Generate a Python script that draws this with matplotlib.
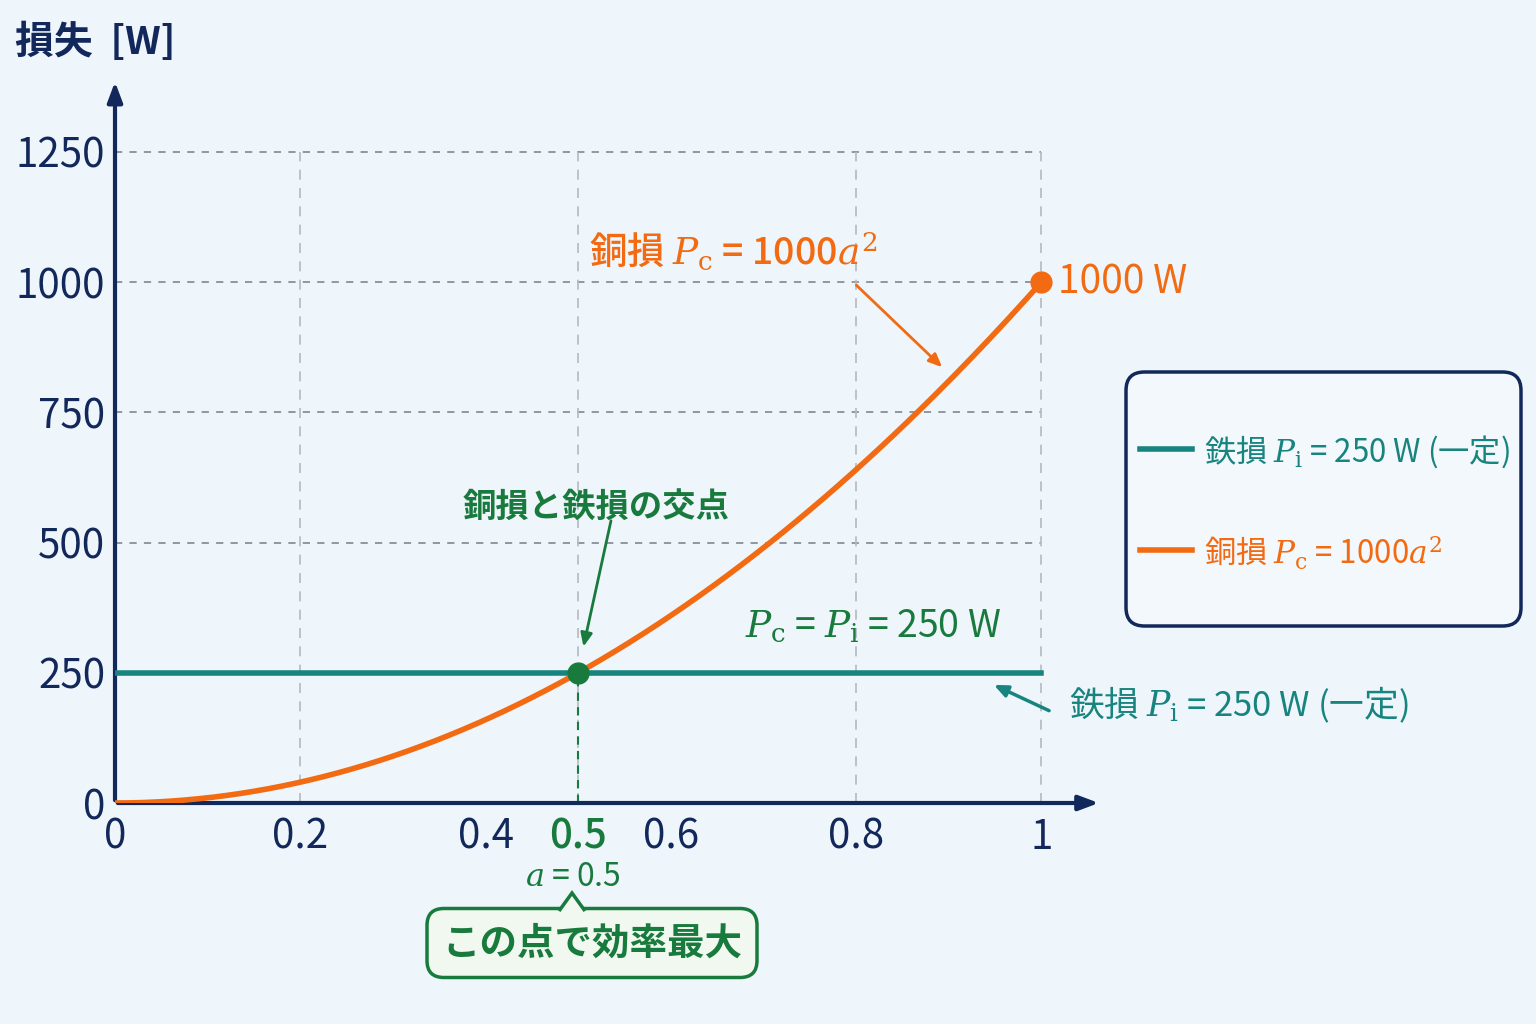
import numpy as np
import matplotlib.pyplot as plt
from matplotlib.lines import Line2D
from matplotlib.patches import Polygon, FancyBboxPatch

plt.rcParams['font.family'] = ['Noto Sans CJK JP', 'DejaVu Sans']
plt.rcParams['mathtext.fontset'] = 'dejavuserif'

# データ
a = np.linspace(0, 1, 201)
copper_coef = 1000
iron_loss = 250
a_cross = 0.5
yticks = [0, 250, 500, 750, 1000, 1250]
xticks = [0, 0.2, 0.4, 0.5, 0.6, 0.8, 1]
xtick_labels = ['0', '0.2', '0.4', '0.5', '0.6', '0.8', '1']
vgrid = [0.2, 0.5, 0.8, 1.0]
hgrid = [500, 750, 1000, 1250]
legend_labels = ['鉄損 $P_\\mathrm{i}$ = 250 W (一定)', '銅損 $P_\\mathrm{c}$ = 1000$a^2$']

navy = '#13285a'
orange = '#f26b12'
teal = '#17847f'
green = '#187a3c'
bg = '#eef5fb'

fig = plt.figure(figsize=(15.36, 10.24), dpi=100, facecolor=bg)
ax = fig.add_axes([115/1536, 221/1024, 982/1536, 724/1024])
ax.set_facecolor(bg)
ax.set_xlim(0, 1.06)
ax.set_ylim(0, 1390)
for s in ax.spines.values():
    s.set_visible(False)

# グリッド
ax.hlines(hgrid, 0, 1, colors='#8a8f98', linestyles=(0, (4, 4)), lw=1.3, zorder=1)
ax.vlines(vgrid, 0, 1250, colors='#b5b9c0', linestyles=(0, (6, 5)), lw=1.2, zorder=1)

# 軸（矢印）
ax.annotate('', xy=(1.065, 0), xytext=(0, 0), annotation_clip=False,
            arrowprops=dict(arrowstyle='-|>,head_length=1.2,head_width=0.45', color=navy, lw=3))
ax.annotate('', xy=(0, 1390), xytext=(0, 0), annotation_clip=False,
            arrowprops=dict(arrowstyle='-|>,head_length=1.2,head_width=0.45', color=navy, lw=3))

# 曲線
pc = copper_coef * a**2
ax.plot([0, 1], [iron_loss, iron_loss], color=teal, lw=4, zorder=3)
ax.plot(a, pc, color=orange, lw=4, zorder=4)
ax.plot([1], [copper_coef], 'o', color=orange, ms=15, zorder=5)
ax.plot([a_cross, a_cross], [0, iron_loss], color=green, lw=1.5, ls=(0, (4, 3)), zorder=2)
ax.plot([a_cross], [iron_loss], 'o', color=green, ms=15, zorder=6)

# 目盛
ax.set_yticks(yticks)
ax.set_yticklabels([str(v) for v in yticks], fontsize=29, color=navy)
ax.set_xticks(xticks)
ax.set_xticklabels(xtick_labels, fontsize=29, color=navy)
ax.get_xticklabels()[3].set_color(green)
ax.get_xticklabels()[3].set_fontweight('medium')
ax.tick_params(length=0, pad=10)
ax.tick_params(axis='y', pad=7)

fig.text(15/1536, 1 - 42/1024, '損失  [W]', fontsize=28, color=navy, fontweight='bold',
         va='center', ha='left')

# 注釈
ax.text(0.512, 1060, '銅損 $P_\\mathrm{c}$ = 1000$a^2$', fontsize=27, color=orange,
        va='center', ha='left', fontweight='medium')
ax.annotate('', xy=(0.895, 833), xytext=(0.798, 998),
            arrowprops=dict(arrowstyle='-|>,head_length=0.8,head_width=0.35', color=orange, lw=2))
ax.text(1.018, 1000, '1000 W', fontsize=28, color=orange, va='center', ha='left')

ax.text(0.519, 568, '銅損と鉄損の交点', fontsize=24, color=green, fontweight='bold',
        va='center', ha='center')
ax.annotate('', xy=(0.505, 295), xytext=(0.536, 547),
            arrowprops=dict(arrowstyle='-|>,head_length=0.8,head_width=0.35', color=green, lw=2))
ax.text(0.68, 338, '$P_\\mathrm{c}$ = $P_\\mathrm{i}$ = 250 W', fontsize=27, color=green,
        va='center', ha='left')

ax.text(1.03, 188, '鉄損 $P_\\mathrm{i}$ = 250 W (一定)', fontsize=25, color=teal,
        va='center', ha='left', clip_on=False)
ax.annotate('', xy=(0.946, 229), xytext=(1.011, 175), annotation_clip=False,
            arrowprops=dict(arrowstyle='-|>,head_length=0.8,head_width=0.35', color=teal, lw=2.5))

# 下部の注記
fig.text(573/1536, 1 - 877/1024, '$a$ = 0.5', fontsize=23, color=green, ha='center', va='center')
fig.text(592/1536, 1 - 943/1024, 'この点で効率最大', fontsize=27, color=green, fontweight='bold',
         ha='center', va='center',
         bbox=dict(boxstyle='round,pad=0.4,rounding_size=0.45', fc='#f1f8f0', ec=green, lw=2.5))
notch = Polygon([(559/1536, 1 - 911/1024), (572/1536, 1 - 893/1024), (585/1536, 1 - 911/1024)],
                closed=False, transform=fig.transFigure, fc='#f1f8f0', ec=green, lw=2.5, zorder=10)
fig.patches.append(notch)

# 凡例（手描き）
box = FancyBboxPatch((1126/1536, 1 - 626/1024), 395/1536, 254/1024,
                     boxstyle='round,pad=0,rounding_size=0.012', mutation_aspect=1.5,
                     transform=fig.transFigure, fc='#f3f8fc', ec=navy, lw=2.5)
fig.patches.append(box)
for lab, c, yp in zip(legend_labels, [teal, orange], [449, 550]):
    fig.add_artist(Line2D([1140/1536, 1192/1536], [1 - yp/1024, 1 - yp/1024],
                          transform=fig.transFigure, color=c, lw=4))
    fig.text(1204/1536, 1 - (yp + 3)/1024, lab, fontsize=22.5, color=c, va='center', ha='left')

fig.savefig('out.png', dpi=100, facecolor=bg)
